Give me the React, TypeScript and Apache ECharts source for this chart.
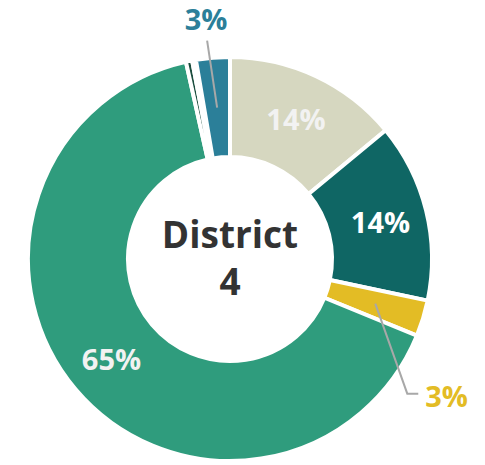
import React, { useEffect, useRef } from "react";
import * as echarts from "echarts";

const categories = ["Group A", "Group B", "Group C", "Group D", "Group E", "Group F", "Group G"];
const values = [14, 14.3, 2.9, 65.3, 0.5, 0.3, 2.7];
const colors = ["#d6d7c0", "#0f6664", "#e3bc25", "#2f9c7d", "#1b4d3e", "#ffffff", "#2b7f99"];
const labelColors = ["#f2f2f2", "#ffffff", "#e3bc25", "#f2f2f2", "#ffffff", "#ffffff", "#2b7f99"];
const labelShown = [true, true, true, true, false, false, true];
const outsideLabel = [false, false, true, false, false, false, true];
const centerLines = ["District", "4"];

const CX = 230;
const CY = 259;
const R_IN = 102;
const R_OUT = 202;

export default function App() {
  const ref = useRef<HTMLDivElement>(null);
  useEffect(() => {
    if (!ref.current) return;
    const chart = echarts.init(ref.current, null, { renderer: "svg" });
    const total = values.reduce((a, b) => a + b, 0);
    const midAngles: number[] = [];
    let acc = 0;
    values.forEach((v) => {
      midAngles.push(((acc + v / 2) / total) * Math.PI * 2);
      acc += v;
    });
    const rMid = (R_IN + R_OUT) / 2;
    const startPt = (i: number) => [CX + rMid * Math.sin(midAngles[i]), CY - rMid * Math.cos(midAngles[i])];

    const [ysx, ysy] = startPt(2);
    const [bsx, bsy] = startPt(6);

    const data = values.map((v, i) => ({
      name: categories[i],
      value: v,
      itemStyle: { color: colors[i] },
      label: {
        show: labelShown[i],
        position: outsideLabel[i] ? "outside" : "inside",
        color: labelColors[i],
      },
      labelLine: { show: false },
    }));

    const lineStyle = { stroke: "#a8a8a8", lineWidth: 2, fill: null };

    chart.setOption({
      animation: false,
      graphic: [
        ...centerLines.map((t, i) => ({
          type: "text",
          x: CX,
          y: i === 0 ? 233 : 280,
          style: {
            text: t,
            textAlign: "center",
            textVerticalAlign: "middle",
            font: 'bold 37px "Open Sans"',
            fill: "#333333",
          },
        })),
        {
          type: "polyline",
          z: 10,
          shape: {
            points: [
              [ysx, ysy],
              [ysx + 32, ysy + 90],
              [ysx + 43, ysy + 90],
            ],
          },
          style: lineStyle,
        },
        {
          type: "polyline",
          z: 10,
          shape: {
            points: [
              [bsx, bsy],
              [bsx - 10, bsy - 67],
            ],
          },
          style: lineStyle,
        },
      ],
      series: [
        {
          type: "pie",
          center: [CX, CY],
          radius: [R_IN, R_OUT],
          startAngle: 90,
          clockwise: true,
          avoidLabelOverlap: false,
          itemStyle: { borderColor: "#ffffff", borderWidth: 4 },
          label: {
            fontFamily: "Open Sans",
            fontWeight: "bold",
            fontSize: 29,
            formatter: (p: any) => Math.round(p.percent) + "%",
          },
          labelLayout: (p: any) => {
            const i = p.dataIndex;
            if (i === 2) {
              return { x: ysx + 50, y: ysy + 92, align: "left", verticalAlign: "middle" };
            }
            if (i === 6) {
              return { x: bsx - 11, y: bsy - 89, align: "center", verticalAlign: "middle" };
            }
            return {};
          },
          data,
        },
      ],
    });
    return () => chart.dispose();
  }, []);
  return (
    <div
      ref={ref}
      style={{ position: "fixed", left: 0, top: 0, width: 485, height: 465, background: "#ffffff" }}
    />
  );
}
